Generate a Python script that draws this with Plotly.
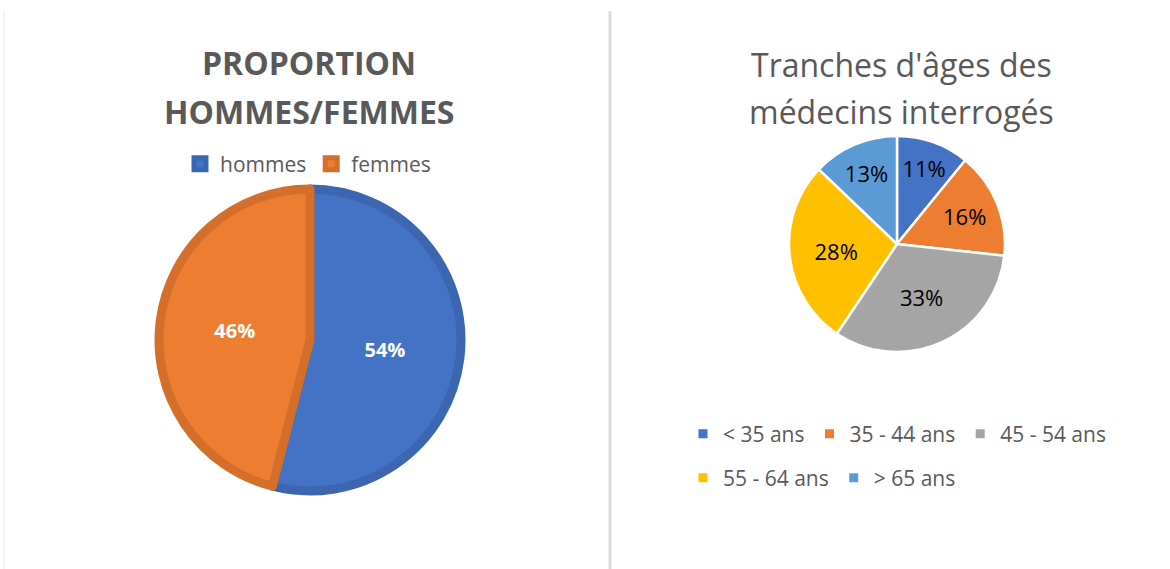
import plotly.graph_objects as go

W, H = 1170, 569

sexe_labels = ['hommes', 'femmes']
sexe_values = [54, 46]
sexe_colors = ['#4472C4', '#ED7D31']
sexe_borders = ['#3D66B0', '#D46F2B']

age_labels = ['< 35 ans', '35 - 44 ans', '45 - 54 ans', '55 - 64 ans', '> 65 ans']
age_values = [11, 16, 33, 28, 13]
age_colors = ['#4472C4', '#ED7D31', '#A5A5A5', '#FFC000', '#5B9BD5']
age_legend_rows = ['legend2', 'legend2', 'legend2', 'legend3', 'legend3']

FONT = 'Open Sans, Noto Sans, sans-serif'
GREY = '#595959'


def px_x(x):
    return x / W


def px_y(y):
    return 1 - y / H


fig = go.Figure()

fig.add_trace(go.Pie(
    labels=sexe_labels, values=sexe_values, sort=False, direction='clockwise',
    marker=dict(colors=sexe_colors, line=dict(color=sexe_borders, width=9)),
    texttemplate='<b>%{percent:.0%}</b>', textposition='inside',
    insidetextorientation='horizontal',
    textfont=dict(color='white', size=20, family=FONT),
    domain=dict(x=[px_x(159), px_x(461)], y=[px_y(491), px_y(189)]),
    legend='legend', hoverinfo='label+percent',
))

fig.add_trace(go.Pie(
    labels=age_labels, values=age_values, sort=False, direction='clockwise',
    marker=dict(colors=age_colors, line=dict(color='white', width=2.5)),
    texttemplate='%{percent:.0%}', textposition='inside',
    insidetextorientation='horizontal',
    textfont=dict(color='black', size=22, family=FONT),
    domain=dict(x=[px_x(789), px_x(1005)], y=[px_y(352), px_y(136)]),
    showlegend=False, hoverinfo='label+percent',
))

# legend entries of the age chart, split on two rows
for lab, col, leg in zip(age_labels, age_colors, age_legend_rows):
    fig.add_trace(go.Scatter(
        x=[None], y=[None], mode='markers', name=lab, legend=leg,
        marker=dict(symbol='square', size=9, color=col), hoverinfo='skip',
    ))

leg_common = dict(orientation='h', xanchor='left', yanchor='middle',
                  font=dict(size=21, color=GREY, family=FONT), bgcolor='rgba(0,0,0,0)',
                  itemclick=False, itemdoubleclick=False)


def title_line(text, x, y, size, bold=False):
    if bold:
        text = '<b>' + text + '</b>'
    return dict(text=text, x=px_x(x), y=px_y(y), xref='paper', yref='paper',
                xanchor='center', yanchor='middle', showarrow=False,
                font=dict(size=size, color=GREY, family=FONT))


fig.update_layout(
    width=W, height=H,
    margin=dict(l=0, r=0, t=0, b=0),
    paper_bgcolor='white', plot_bgcolor='white',
    font=dict(family=FONT, color=GREY),
    uniformtext=dict(minsize=20, mode='show'),
    xaxis=dict(visible=False), yaxis=dict(visible=False),
    legend=dict(orientation='h', x=px_x(180), xanchor='left', y=px_y(164), yanchor='middle',
                font=dict(size=21, color=GREY, family=FONT), bgcolor='rgba(0,0,0,0)',
                itemclick=False, itemdoubleclick=False),
    legend2=dict(x=px_x(683), y=px_y(434), **leg_common),
    legend3=dict(x=px_x(683), y=px_y(478), **leg_common),
    annotations=[
        title_line('PROPORTION', 309, 63, 32, bold=True),
        title_line('HOMMES/FEMMES', 309, 111, 32, bold=True),
        title_line("Tranches d'âges des", 901, 65, 32),
        title_line('médecins interrogés', 901, 111, 32),
    ],
    shapes=[
        dict(type='line', xref='paper', yref='paper', x0=px_x(610), x1=px_x(610), y0=0, y1=px_y(11),
             line=dict(color='#D9D9D9', width=3)),
        dict(type='line', xref='paper', yref='paper', x0=px_x(4), x1=px_x(4), y0=0, y1=px_y(11),
             line=dict(color='#E6E6E6', width=1)),
    ],
    showlegend=True,
)

fig.write_html('out.html', config={'displayModeBar': False},
               post_script="document.body.style.margin='0';")
